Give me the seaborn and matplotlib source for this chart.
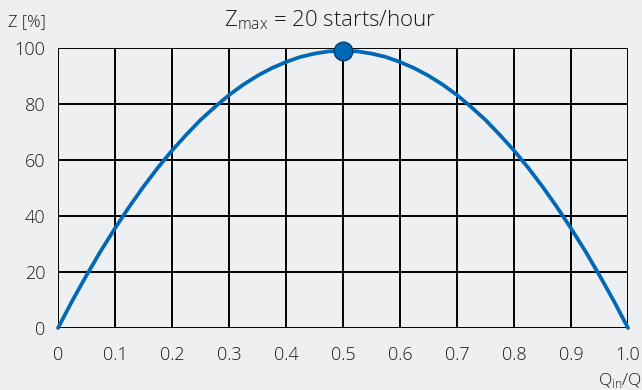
import matplotlib
matplotlib.use("Agg")
import matplotlib.pyplot as plt
import seaborn as sns
import pandas as pd

# Relative inflow Q_in/Q and resulting start frequency Z in percent of Z_max
q_ratio = [0.0, 0.025, 0.05, 0.075, 0.10, 0.125, 0.15, 0.175, 0.20, 0.225,
           0.25, 0.275, 0.30, 0.325, 0.35, 0.375, 0.40, 0.425, 0.45, 0.475,
           0.50, 0.525, 0.55, 0.575, 0.60, 0.625, 0.65, 0.675, 0.70, 0.725,
           0.75, 0.775, 0.80, 0.825, 0.85, 0.875, 0.90, 0.925, 0.95, 0.975, 1.0]
z_percent = [0.0, 9.7, 18.8, 27.5, 35.6, 43.3, 50.5, 57.2, 63.4, 69.0,
             74.3, 78.9, 83.2, 86.9, 90.1, 92.8, 95.0, 96.8, 98.0, 98.8,
             99.0, 98.8, 98.0, 96.8, 95.0, 92.8, 90.1, 86.9, 83.2, 78.9,
             74.3, 69.0, 63.4, 57.2, 50.5, 43.3, 35.6, 27.5, 18.8, 9.7, 0.0]
peak_q = [0.5]
peak_z = [99.0]

x_ticks = [0.0, 0.1, 0.2, 0.3, 0.4, 0.5, 0.6, 0.7, 0.8, 0.9, 1.0]
x_ticklabels = ["0", "0.1", "0.2", "0.3", "0.4", "0.5", "0.6", "0.7", "0.8", "0.9", "1.0"]
y_ticks = [0, 20, 40, 60, 80, 100]

bg = "#eeeff1"
blue = "#0068b4"
ink = "#1a1a1a"

sns.set_style("white")
plt.rcParams["font.family"] = ["Open Sans", "DejaVu Sans"]
plt.rcParams["font.weight"] = "light"
plt.rcParams["mathtext.fontset"] = "custom"
plt.rcParams["mathtext.rm"] = "Open Sans:light"

fig = plt.figure(figsize=(6.42, 3.90), dpi=100, facecolor=bg)
ax = fig.add_axes([58 / 642, 1 - 328 / 390, 570 / 642, 280 / 390])
ax.set_facecolor(bg)

df = pd.DataFrame({"q": q_ratio, "z": z_percent})
sns.lineplot(data=df, x="q", y="z", ax=ax, color=blue, linewidth=2.7,
             zorder=3, clip_on=False)
pk = pd.DataFrame({"q": peak_q, "z": peak_z})
sns.scatterplot(data=pk, x="q", y="z", ax=ax, s=180, color=blue,
                edgecolor="#0a3d6b", linewidth=1.0, zorder=4, clip_on=False)

ax.set_xlim(0, 1.0)
ax.set_ylim(0, 100)
ax.set_xticks(x_ticks)
ax.set_xticklabels(x_ticklabels)
ax.set_yticks(y_ticks)
ax.grid(True, color="black", linewidth=1.4)
ax.set_axisbelow(True)
for side in ["top", "right", "left", "bottom"]:
    ax.spines[side].set_visible(False)
ax.tick_params(axis="both", direction="out", length=7, width=1.4,
               color="black", labelsize=13, labelcolor=ink)
ax.tick_params(axis="x", pad=6)
ax.tick_params(axis="y", pad=2)
ax.set_xlabel("")
ax.set_ylabel("")

fig.text(8 / 642, 1 - 22 / 390, "Z [%]", fontsize=12, color=ink,
         va="center", ha="left")
fig.text(598 / 642, 1 - 380 / 390, r"Q$_{\mathregular{in}}$/Q", fontsize=12.5,
         color=ink, va="center", ha="left")
fig.text(330 / 642, 1 - 20 / 390, r"Z$_{\mathregular{max}}$ = 20 starts/hour",
         fontsize=16, color=ink, va="center", ha="center")

fig.savefig("out.png", dpi=100, facecolor=bg)
